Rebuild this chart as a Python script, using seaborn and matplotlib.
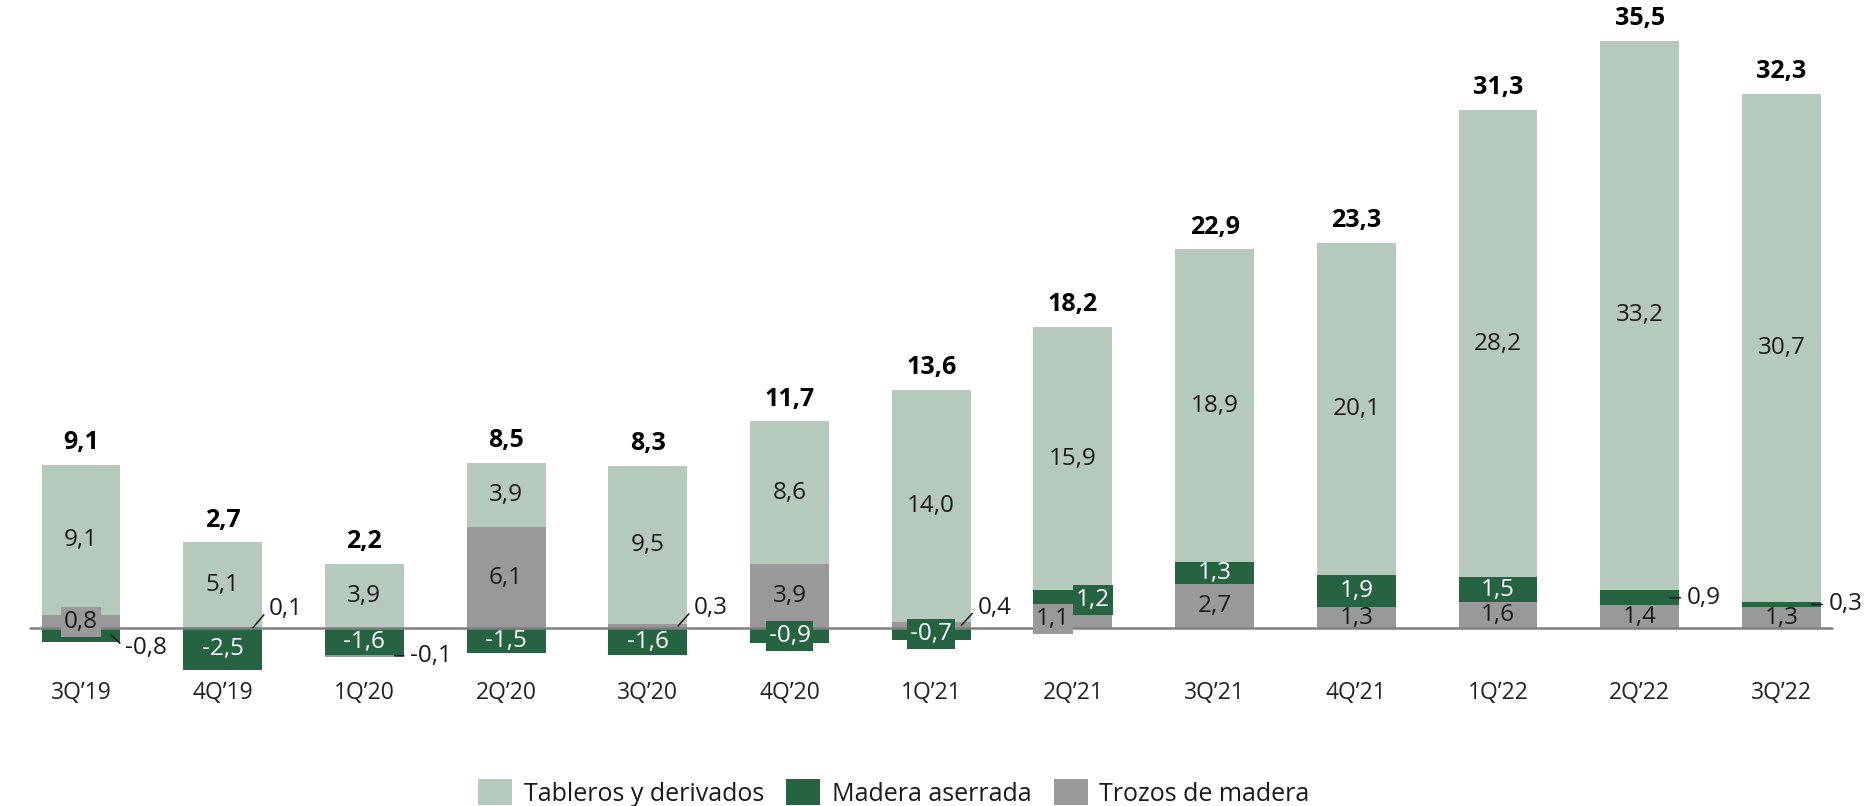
import numpy as np
import pandas as pd
import seaborn as sns
import matplotlib.pyplot as plt
from matplotlib.patches import Patch

# data
quarters = ["3Q’19", "4Q’19", "1Q’20", "2Q’20", "3Q’20", "4Q’20", "1Q’21",
            "2Q’21", "3Q’21", "4Q’21", "1Q’22", "2Q’22", "3Q’22"]
tableros = [9.1, 5.1, 3.9, 3.9, 9.5, 8.6, 14.0, 15.9, 18.9, 20.1, 28.2, 33.2, 30.7]
madera = [-0.8, -2.5, -1.6, -1.5, -1.6, -0.9, -0.7, 1.2, 1.3, 1.9, 1.5, 0.9, 0.3]
trozos = [0.8, 0.1, -0.1, 6.1, 0.3, 3.9, 0.4, 1.1, 2.7, 1.3, 1.6, 1.4, 1.3]
totales = [9.1, 2.7, 2.2, 8.5, 8.3, 11.7, 13.6, 18.2, 22.9, 23.3, 31.3, 35.5, 32.3]
series_names = ['Tableros y derivados', 'Madera aserrada', 'Trozos de madera']

c_light = '#b5cabd'
c_dark = '#266341'
c_gray = '#999999'
txt = '#1a1a1a'

sns.set_theme(style='white')
plt.rcParams['font.family'] = ['Open Sans', 'DejaVu Sans']


def fmt(v):
    return f'{v:.1f}'.replace('.', ',')


df = pd.DataFrame({'trimestre': quarters, 'tableros': tableros,
                   'madera': madera, 'trozos': trozos})

t = np.array(trozos)
m = np.array(madera)
tb = np.array(tableros)
# stacking: positives go up from 0, negatives go down from 0
bot_trozos = np.where(t >= 0, 0, np.minimum(m, 0))
bot_madera = np.where(m >= 0, np.maximum(t, 0), 0)
bot_tableros = np.maximum(t, 0) + np.maximum(m, 0)

W = 0.557
fig = plt.figure(figsize=(18.66, 8.06), dpi=100)
ax = fig.add_axes([0, 0, 1, 1])

layers = [('trozos', bot_trozos, c_gray),
          ('madera', bot_madera, c_dark),
          ('tableros', bot_tableros, c_light)]
for col, bottom, color in layers:
    sns.barplot(data=df, x='trimestre', y=col, bottom=bottom, color=color,
                saturation=1, width=W, errorbar=None, linewidth=0, ax=ax,
                zorder=2)

ax.set_xlim(-0.5716, 12.597)
ax.set_ylim(-10.72, 37.95)
for s in ax.spines.values():
    s.set_visible(False)
ax.spines['bottom'].set_position(('data', 0))
ax.set_yticks([])
ax.set_xlabel('')
ax.set_ylabel('')
ax.tick_params(axis='x', length=0, pad=37.5, labelsize=16.5, labelcolor='#222222')
ax.axhline(0, xmin=0.016, xmax=0.982, color='#808080', lw=1.8, zorder=3)

# labels that sit on a coloured box
boxed = {(0, 'trozos'): 0.0, (5, 'madera'): 0.0, (6, 'madera'): 0.0,
         (7, 'madera'): 0.14, (7, 'trozos'): -0.14}
# labels that sit outside the bar with a leader line (offset in points)
outside = {(0, 'madera'): (10, -9.5), (1, 'trozos'): (11.5, 13.5),
           (2, 'trozos'): (11, 0), (4, 'trozos'): (11.5, 13),
           (6, 'trozos'): (11.5, 12.5), (11, 'madera'): (12, 0),
           (12, 'madera'): (12, 0)}

vals = {'tableros': tb, 'madera': m, 'trozos': t}
bots = {'tableros': bot_tableros, 'madera': bot_madera, 'trozos': bot_trozos}
cols = {'tableros': c_light, 'madera': c_dark, 'trozos': c_gray}
fcol = {'tableros': txt, 'madera': 'white', 'trozos': txt}

FS = 17.5
for key in ['tableros', 'madera', 'trozos']:
    for i in range(len(quarters)):
        v = vals[key][i]
        yc = bots[key][i] + v / 2
        if (i, key) in outside:
            dx, dy = outside[(i, key)]
            ax.annotate(fmt(v), xy=(i + W / 2 - 0.065, yc),
                        xytext=(dx, dy), textcoords='offset points',
                        ha='left', va='center', fontsize=FS, color=txt,
                        arrowprops=dict(arrowstyle='-', color=txt, lw=1.1,
                                        shrinkA=2, shrinkB=0,
                                        relpos=(0, 0.5)),
                        zorder=5)
        elif (i, key) in boxed:
            ax.text(i + boxed[(i, key)], yc, fmt(v), ha='center',
                    va='center', fontsize=FS, color=fcol[key], zorder=5,
                    bbox=dict(boxstyle='square,pad=0.12', fc=cols[key],
                              ec='none'))
        else:
            ax.text(i, yc, fmt(v), ha='center', va='center', fontsize=FS,
                    color=fcol[key], zorder=4)

# totals above the bars
for i, tot in enumerate(totales):
    ax.annotate(fmt(tot), xy=(i, bot_tableros[i] + tb[i]), xytext=(0, 7),
                textcoords='offset points', ha='center', va='bottom',
                fontsize=18, fontweight='bold', color='black')

handles = [Patch(facecolor=c, edgecolor='none') for c in (c_light, c_dark, c_gray)]
fig.legend(handles, series_names, loc='upper center',
           bbox_to_anchor=(0.479, 0.033), ncol=3, frameon=False, fontsize=18,
           handlelength=1.36, handleheight=1.2, handletextpad=0.45,
           columnspacing=0.9, borderaxespad=0, borderpad=0,
           labelcolor=txt)

fig.savefig('out.png', dpi=100)
